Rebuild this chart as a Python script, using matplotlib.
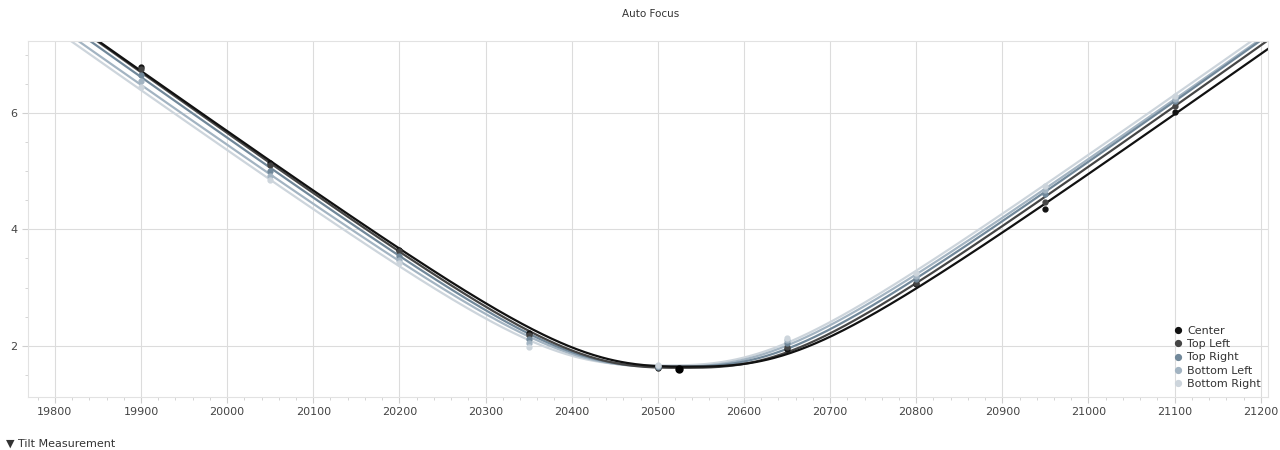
import numpy as np
import matplotlib.pyplot as plt
from matplotlib.ticker import MultipleLocator

# focuser positions of the autofocus run
steps = [19900, 20050, 20200, 20350, 20500, 20650, 20800, 20950, 21100]

# HFR per region
center = [6.80, 5.15, 3.65, 2.22, 1.62, 1.95, 3.06, 4.35, 6.02]
top_left = [6.75, 5.10, 3.62, 2.18, 1.63, 1.98, 3.08, 4.47, 6.12]
top_right = [6.65, 5.00, 3.55, 2.12, 1.64, 2.04, 3.15, 4.60, 6.20]
bottom_left = [6.55, 4.92, 3.48, 2.05, 1.65, 2.10, 3.20, 4.68, 6.25]
bottom_right = [6.45, 4.85, 3.42, 1.98, 1.66, 2.14, 3.25, 4.75, 6.30]

focus_pos = 20525
focus_hfr = 1.60

names = ["Center", "Top Left", "Top Right", "Bottom Left", "Bottom Right"]
series = [center, top_left, top_right, bottom_left, bottom_right]
colors = ["#111111", "#454545", "#71889a", "#a3b4c2", "#cdd5dc"]


def curve(x, a, x0, s, p):
    return (a ** p + np.abs(s * (x - x0)) ** p) ** (1.0 / p)


def focus_fit(x, y):
    # brute force least squares for a rounded-V focus curve
    x = np.asarray(x, float)
    y = np.asarray(y, float)
    A, X0, S, P = np.meshgrid(np.arange(1.40, 1.81, 0.02),
                              np.arange(20440, 20601, 4),
                              np.arange(0.0085, 0.0126, 0.0001),
                              np.arange(2.2, 2.81, 0.1), indexing="ij")
    pars = [v.ravel()[:, None] for v in (A, X0, S, P)]
    err = ((curve(x[None, :], *pars) - y[None, :]) ** 2).sum(axis=1)
    i = np.argmin(err)
    return [v[i, 0] for v in pars]


fig = plt.figure(figsize=(12.8, 4.5), dpi=100)
ax = fig.add_axes([0.022, 0.118, 0.969, 0.791])

xx = np.linspace(19760, 21220, 600)
for name, vals, col in zip(names[::-1], series[::-1], colors[::-1]):
    ax.plot(xx, curve(xx, *focus_fit(steps, vals)), color=col, lw=1.6, zorder=2)
for name, vals, col in zip(names, series, colors):
    ax.plot(steps, vals, "o", color=col, ms=3.5, zorder=3, label=name)
ax.plot([focus_pos], [focus_hfr], "o", color="#000000", ms=5, zorder=4)

ax.set_xlim(19769, 21209)
ax.set_ylim(1.12, 7.24)
ax.xaxis.set_major_locator(MultipleLocator(100))
ax.xaxis.set_minor_locator(MultipleLocator(20))
ax.yaxis.set_major_locator(MultipleLocator(2))
ax.yaxis.set_minor_locator(MultipleLocator(0.5))
ax.grid(True, which="major", color="#dcdcdc", lw=0.8)
ax.tick_params(which="both", colors="#cfcfcf", labelcolor="#444444", labelsize=8)
ax.tick_params(which="major", length=4)
ax.tick_params(which="minor", length=2)
for s in ax.spines.values():
    s.set_color("#e2e2e2")

leg = ax.legend(loc="lower right", frameon=False, fontsize=8, handletextpad=0.3,
                labelspacing=0.3, borderaxespad=0.3, markerscale=1.2, handlelength=1)
for t in leg.get_texts():
    t.set_color("#333333")

fig.text(0.508, 0.968, "Auto Focus", ha="center", va="center", fontsize=7.5, color="#333333")
fig.text(0.005, 0.014, "\u25bc Tilt Measurement", ha="left", va="center", fontsize=8, color="#333333")

fig.savefig("out.png")
